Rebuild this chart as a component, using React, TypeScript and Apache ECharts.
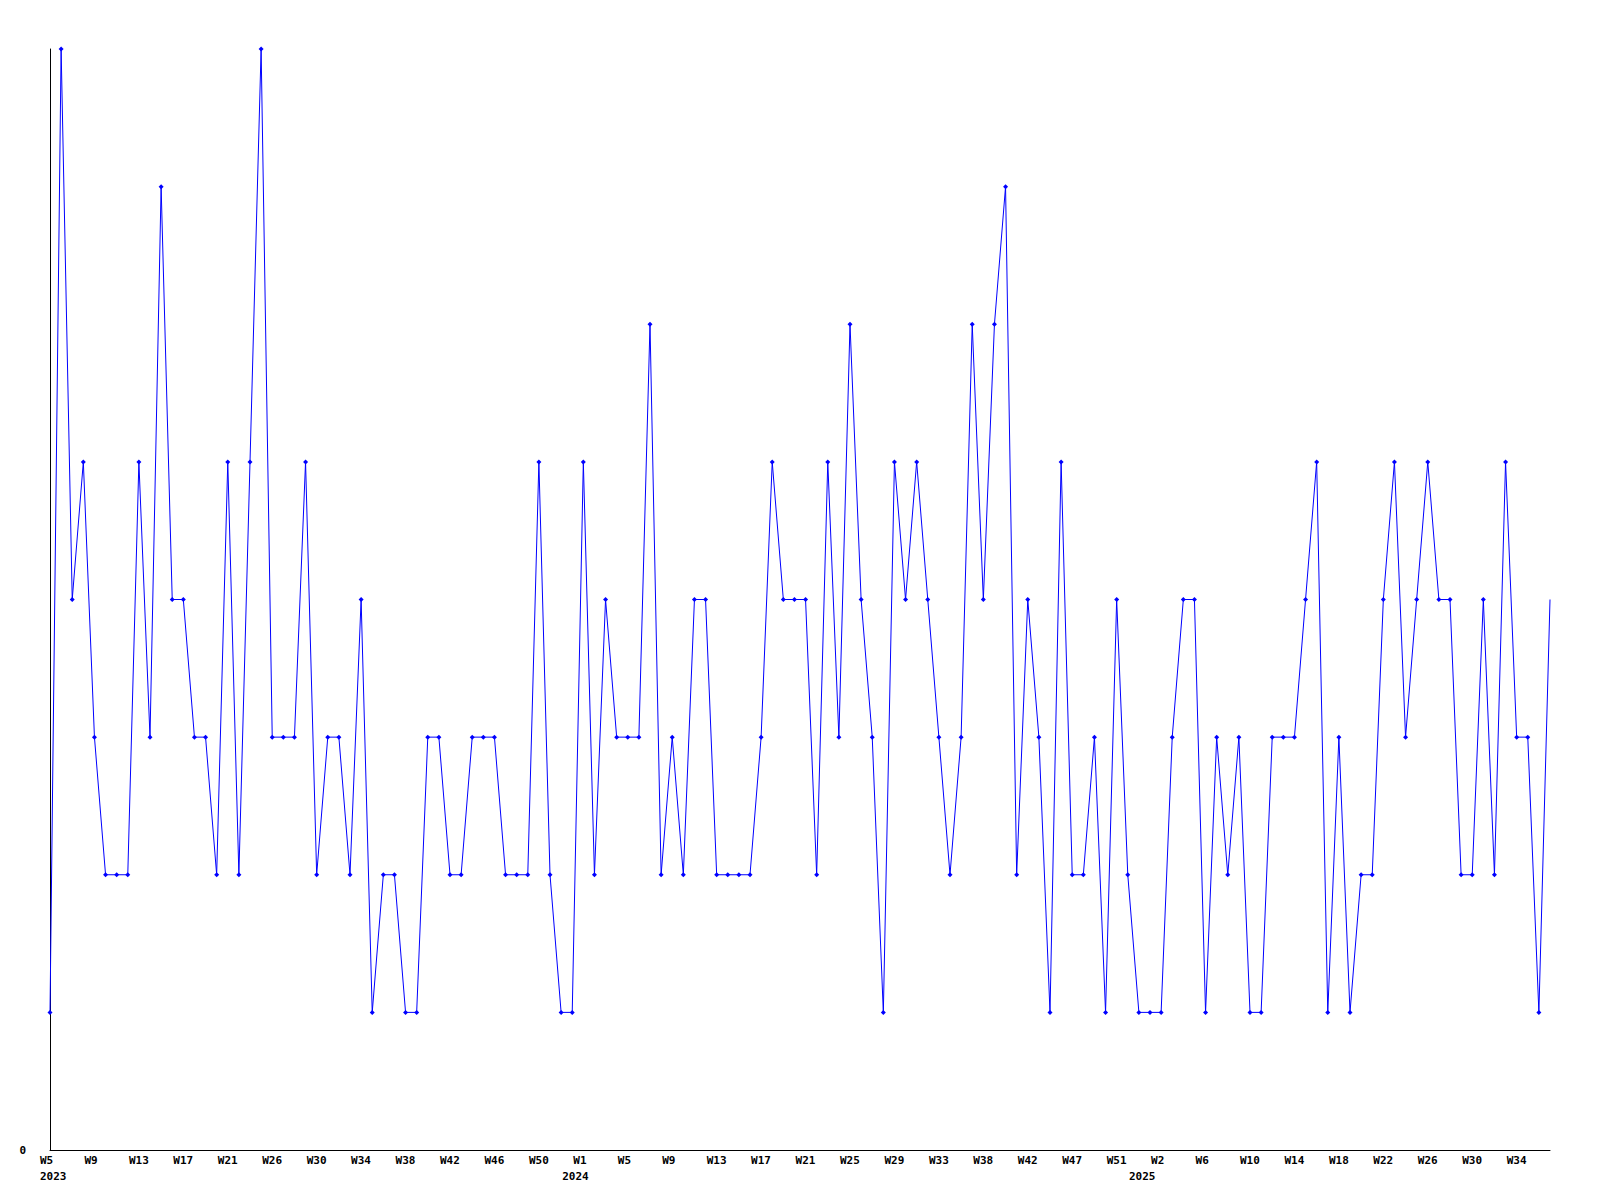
import React, { useEffect, useRef } from "react";
import * as echarts from "echarts";

// Weekly counts, 2023-W5 .. 2025-W36
const values: number[] = [
  1, 8, 4, 5, 3, 2, 2, 2, 5, 3, 7, 4, 4, 3, 3, 2, 5, 2, 5, 8,
  3, 3, 3, 5, 2, 3, 3, 2, 4, 1, 2, 2, 1, 1, 3, 3, 2, 2, 3, 3,
  3, 2, 2, 2, 5, 2, 1, 1, 5, 2, 4, 3, 3, 3, 6, 2, 3, 2, 4, 4,
  2, 2, 2, 2, 3, 5, 4, 4, 4, 2, 5, 3, 6, 4, 3, 1, 5, 4, 5, 4,
  3, 2, 3, 6, 4, 6, 7, 2, 4, 3, 1, 5, 2, 2, 3, 1, 4, 2, 1, 1,
  1, 3, 4, 4, 1, 3, 2, 3, 1, 1, 3, 3, 3, 4, 5, 1, 3, 1, 2, 2,
  4, 5, 3, 4, 5, 4, 4, 2, 2, 4, 2, 5, 3, 3, 1, 4,
];

const weekSegments = [
  { year: 2023, from: 5, to: 52 },
  { year: 2024, from: 1, to: 52 },
  { year: 2025, from: 1, to: 36 },
];

const weekTickLabels: string[] = [
  "W5", "W9", "W13", "W17", "W21", "W26", "W30", "W34", "W38", "W42", "W46", "W50",
  "W1", "W5", "W9", "W13", "W17", "W21", "W25", "W29", "W33", "W38", "W42", "W47", "W51",
  "W2", "W6", "W10", "W14", "W18", "W22", "W26", "W30", "W34",
];

const yearLabels: string[] = ["2023", "2024", "2025"];
const yearLabelIndex: number[] = [0, 47, 98];

const categories: string[] = [];
weekSegments.forEach((s) => {
  for (let w = s.from; w <= s.to; w++) categories.push(`${s.year}-W${w}`);
});

const FONT = "DejaVu Sans Mono";

export default function App() {
  const ref = useRef<HTMLDivElement>(null);
  useEffect(() => {
    document.body.style.margin = "0";
    if (!ref.current) return;
    const chart = echarts.init(ref.current, undefined, { renderer: "svg" });
    const labelText = {
      fontFamily: FONT,
      fontWeight: "bold" as const,
      fontSize: 11,
      color: "#000",
    };
    const seriesData = values.map((v, i) =>
      i === values.length - 1 ? { value: v, symbol: "none" } : v
    );
    chart.setOption({
      animation: false,
      backgroundColor: "#fff",
      grid: { left: 50, right: 50, top: 49, bottom: 50 },
      xAxis: [
        {
          type: "category",
          data: categories,
          boundaryGap: false,
          position: "bottom",
          axisLine: { show: true, lineStyle: { color: "#000", width: 1 } },
          axisTick: { show: false },
          splitLine: { show: false },
          axisLabel: {
            ...labelText,
            margin: 5,
            align: "left",
            padding: [0, 0, 0, -10],
            interval: (i: number) => i % 4 === 0,
            formatter: (_v: string, i: number) => weekTickLabels[i / 4] ?? "",
          },
        },
        {
          type: "category",
          data: categories,
          boundaryGap: false,
          position: "bottom",
          offset: 0,
          axisLine: { show: false },
          axisTick: { show: false },
          splitLine: { show: false },
          axisLabel: {
            ...labelText,
            margin: 21,
            align: "left",
            padding: [0, 0, 0, -10],
            interval: (i: number) => yearLabelIndex.includes(i),
            formatter: (_v: string, i: number) => {
              const k = yearLabelIndex.indexOf(i);
              return k >= 0 ? yearLabels[k] : "";
            },
          },
        },
      ],
      yAxis: {
        type: "value",
        min: 0,
        max: 8,
        interval: 8,
        axisLine: { show: true, lineStyle: { color: "#000", width: 1 } },
        axisTick: { show: false },
        splitLine: { show: false },
        axisLabel: {
          ...labelText,
          margin: 24,
          formatter: (v: number) => (v === 0 ? "0" : ""),
        },
      },
      series: [
        {
          type: "line",
          data: seriesData,
          xAxisIndex: 0,
          symbol: "diamond",
          symbolSize: 5,
          showAllSymbol: true,
          lineStyle: { color: "#0000ff", width: 1 },
          itemStyle: { color: "#0000ff" },
        },
      ],
    });
    return () => chart.dispose();
  }, []);
  return <div ref={ref} style={{ width: 1600, height: 1200 }} />;
}
